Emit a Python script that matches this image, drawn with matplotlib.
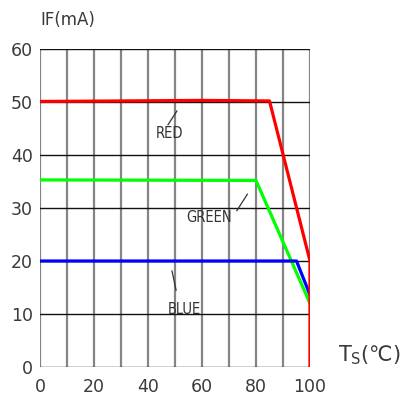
import matplotlib.pyplot as plt
import numpy as np

# Derating curves: forward current vs solder point temperature
red_t = [0, 60, 85, 100, 100]
red_if = [50.1, 50.3, 50.2, 20, 0]
green_t = [0, 80, 100]
green_if = [35.3, 35.2, 12]
blue_t = [0, 95, 100]
blue_if = [20, 20, 13.6]

xticks = [0, 20, 40, 60, 80, 100]
yticks = [0, 10, 20, 30, 40, 50, 60]

# label text, text position, leader line (x0, y0, x1, y1)
labels = ['RED', 'GREEN', 'BLUE']
label_pos = [(48, 44), (62.5, 28.3), (53.5, 10.8)]
leaders = [(47.4, 45.7, 50.7, 48.3), (72.9, 29.5, 76.8, 32.6), (48.9, 18.1, 50.4, 14.5)]

fig = plt.figure(figsize=(4.05, 4.0), dpi=100)
ax = fig.add_axes([40 / 405, 33 / 400, 270 / 405, 318 / 400])

# grid: grey verticals, black horizontals
for x in np.arange(0, 101, 10):
    ax.axvline(x, color='#858585', lw=1.6, zorder=1)
for y in yticks:
    ax.axhline(y, color='#111111', lw=1.0, zorder=1)

ax.plot(red_t, red_if, color='#ff0000', lw=2.3, zorder=3)
ax.plot(green_t, green_if, color='#00ff00', lw=2.3, zorder=2)
ax.plot(blue_t, blue_if, color='#0000ff', lw=2.3, zorder=2)

for text, (tx, ty), (x0, y0, x1, y1) in zip(labels, label_pos, leaders):
    ax.text(tx, ty, text, ha='center', va='center', fontsize=10.5, color='#333333',
            fontstretch='condensed')
    ax.plot([x0, x1], [y0, y1], color='#333333', lw=0.9)

ax.set_xlim(0, 100)
ax.set_ylim(0, 60)
ax.set_xticks(xticks)
ax.set_yticks(yticks)
ax.tick_params(length=0, labelsize=12.5, labelcolor='#3a3a3a')
ax.tick_params(axis='y', pad=5)
ax.tick_params(axis='x', pad=8)
for s in ax.spines.values():
    s.set_visible(False)

fig.text(40 / 405, 1 - 20 / 400, 'IF(mA)', fontsize=12, color='#3a3a3a', va='center', ha='left')
fig.text(338 / 405, 1 - 355 / 400, r'T$_\mathregular{S}$(℃)', fontsize=15, color='#3a3a3a',
         va='center', ha='left')

plt.savefig('out.png', dpi=100)
